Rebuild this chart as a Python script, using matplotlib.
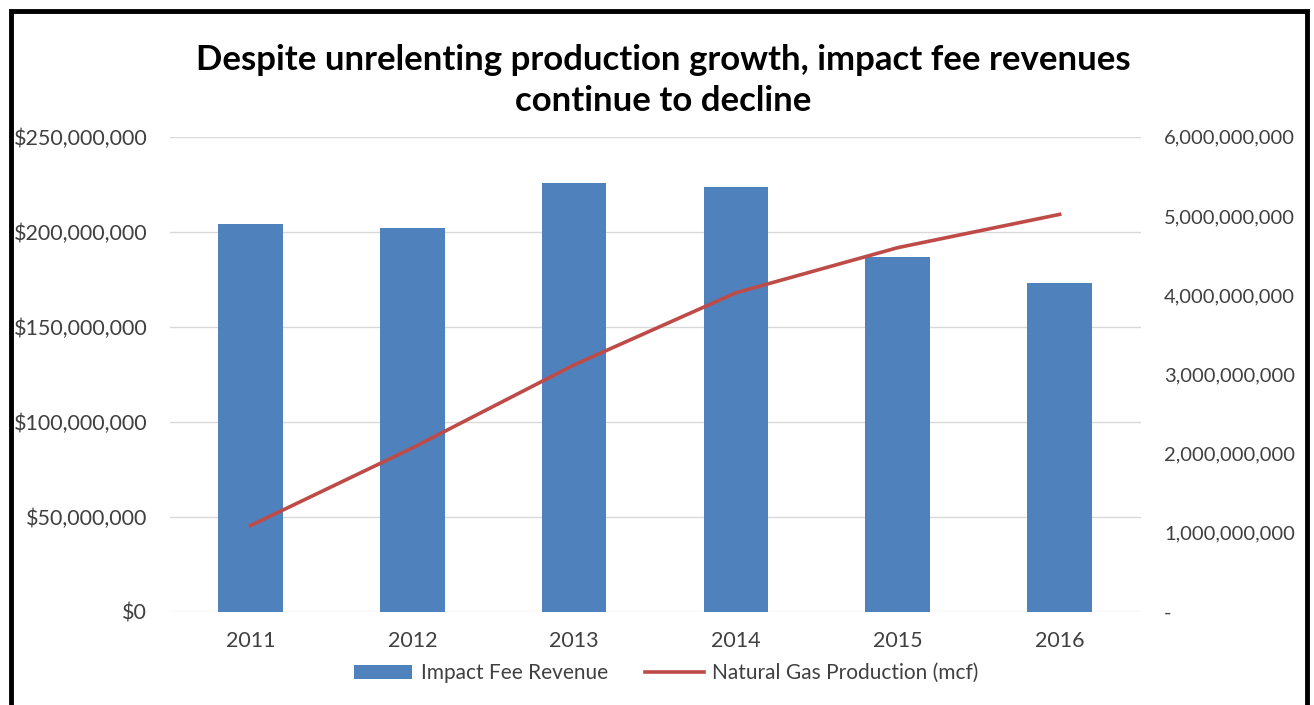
import matplotlib.pyplot as plt
from matplotlib.patches import Rectangle, Patch
from matplotlib.lines import Line2D
from matplotlib.ticker import FuncFormatter, FixedLocator

years = ['2011', '2012', '2013', '2014', '2015', '2016']
impact_fee = [204e6, 202e6, 225.5e6, 223.5e6, 187e6, 173e6]
gas_production = [1.09e9, 2.07e9, 3.12e9, 4.03e9, 4.6e9, 5.02e9]

left_ticks = [0, 50e6, 100e6, 150e6, 200e6, 250e6]
right_ticks = [0, 1e9, 2e9, 3e9, 4e9, 5e9, 6e9]

plt.rcParams['font.family'] = ['Lato', 'DejaVu Sans']

fig = plt.figure(figsize=(13.14, 7.05), dpi=100)
ax = fig.add_axes([0.129, 0.132, 0.739, 0.674])

x = list(range(len(years)))
ax.bar(x, impact_fee, width=0.4, color='#4F81BD', zorder=2)
ax.set_xlim(-0.5, 5.5)
ax.set_ylim(0, 250e6)
ax.yaxis.set_major_locator(FixedLocator(left_ticks))
ax.yaxis.set_major_formatter(FuncFormatter(lambda v, p: '${:,.0f}'.format(v)))
ax.grid(axis='y', color='#D9D9D9', linewidth=1, zorder=0)
ax.set_xticks(x)
ax.set_xticklabels(years)
for s in ax.spines.values():
    s.set_visible(False)
ax.tick_params(length=0, labelsize=15.5, colors='#404040')
ax.tick_params(axis='x', pad=14)
ax.tick_params(axis='y', pad=16)

ax2 = ax.twinx()
ax2.plot(x, gas_production, color='#BE4B48', linewidth=2.6, zorder=3)
ax2.set_ylim(0, 6e9)
ax2.yaxis.set_major_locator(FixedLocator(right_ticks))
ax2.yaxis.set_major_formatter(FuncFormatter(lambda v, p: '-' if v == 0 else '{:,.0f}'.format(v)))
for s in ax2.spines.values():
    s.set_visible(False)
ax2.tick_params(length=0, labelsize=14.5, colors='#404040', pad=17)

fig.text(0.505, 0.886, 'Despite unrelenting production growth, impact fee revenues\ncontinue to decline',
         ha='center', va='center', fontsize=25, fontweight='bold', color='black', linespacing=1.32)

handles = [Patch(facecolor='#4F81BD', label='Impact Fee Revenue'),
           Line2D([0], [0], color='#BE4B48', linewidth=2.6, label='Natural Gas Production (mcf)')]
fig.legend(handles=handles, loc='center', bbox_to_anchor=(0.507, 0.045), ncol=2, frameon=False,
           fontsize=15, labelcolor='#404040', handlelength=2.8, columnspacing=1.8, handletextpad=0.4)

fig.patches.append(Rectangle((0.008, -0.05), 0.987, 1.035, transform=fig.transFigure,
                             fill=False, edgecolor='black', linewidth=3.5))

fig.savefig('out.png', dpi=100)
